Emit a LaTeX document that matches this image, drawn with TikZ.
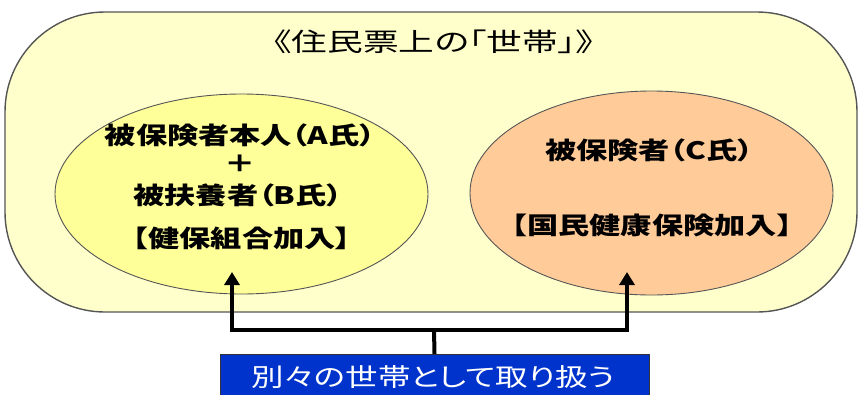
\documentclass[tikz,border=0pt]{standalone}
\usepackage{fontspec}
\usetikzlibrary{arrows.meta,shapes.geometric}
\newfontfamily\jp[FakeStretch=1.3,RawFeature=+palt]{Noto Sans CJK JP}
\newfontfamily\jpt[FakeStretch=1.4,RawFeature=+palt]{Noto Sans CJK JP}
\definecolor{outerfill}{HTML}{FFFFCC}
\definecolor{leftfill}{HTML}{FFFF99}
\definecolor{rightfill}{HTML}{FFCC99}
\definecolor{boxblue}{HTML}{0033CC}
\definecolor{edgegray}{HTML}{555555}
\tikzset{
  circ/.style={ellipse, draw=edgegray, line width=0.9pt, inner sep=0pt},
  lbl/.style={font=\jp\bfseries\fontsize{24}{28}\selectfont, inner sep=0pt, anchor=center},
  conn/.style={line width=4pt, line join=miter, black},
  arr/.style={conn, -{Triangle[length=13pt,width=15pt]}}
}
\begin{document}
\begin{tikzpicture}[x=1pt,y=-1pt]
\useasboundingbox[fill=white] (0,0) rectangle (858,394);
\begin{scope}
\clip (0,0) rectangle (858,394);
\node[draw=edgegray, line width=1.4pt, fill=outerfill, rounded corners=100pt, minimum width=852pt, minimum height=300pt, inner sep=0pt] (outer) at (431,162) {};
\node[font=\jpt\fontsize{25.5}{29}\selectfont, inner sep=0pt] (title) at (434,42) {《住民票上の「世帯」》};
\node[circ, fill=leftfill, minimum width=373pt, minimum height=200pt] (L) at (241.5,194) {};
\node[circ, fill=rightfill, minimum width=363pt, minimum height=204pt] (R) at (651.5,193) {};
\node[lbl] (l1) at (240,135) {被保険者本人（A氏）};
\node[lbl] (l2) at (240,164) {＋};
\node[lbl] (l3) at (238,195) {被扶養者（B氏）};
\node[lbl] (l4) at (242,238) {【健保組合加入】};
\node[lbl] (r1) at (649,150) {被保険者（C氏）};
\node[lbl] (r2) at (652,225) {【国民健康保険加入】};
\node[draw=black!80, line width=1pt, fill=boxblue, minimum width=429pt, minimum height=50pt, inner sep=0pt, anchor=north] (b) at (434.5,354) {};
\node[font=\jp\fontsize{25}{29}\selectfont, text=white, inner sep=0pt] (bt) at (433,377) {別々の世帯として取り扱う};
\coordinate (j) at (434,330);
\coordinate (tipL) at (232,272);
\coordinate (tipR) at (627,272);
\draw[conn] (b.north) -- (j);
\draw[arr] (j) -| (tipL);
\draw[arr] (j) -| (tipR);
\end{scope}
\end{tikzpicture}
\end{document}
